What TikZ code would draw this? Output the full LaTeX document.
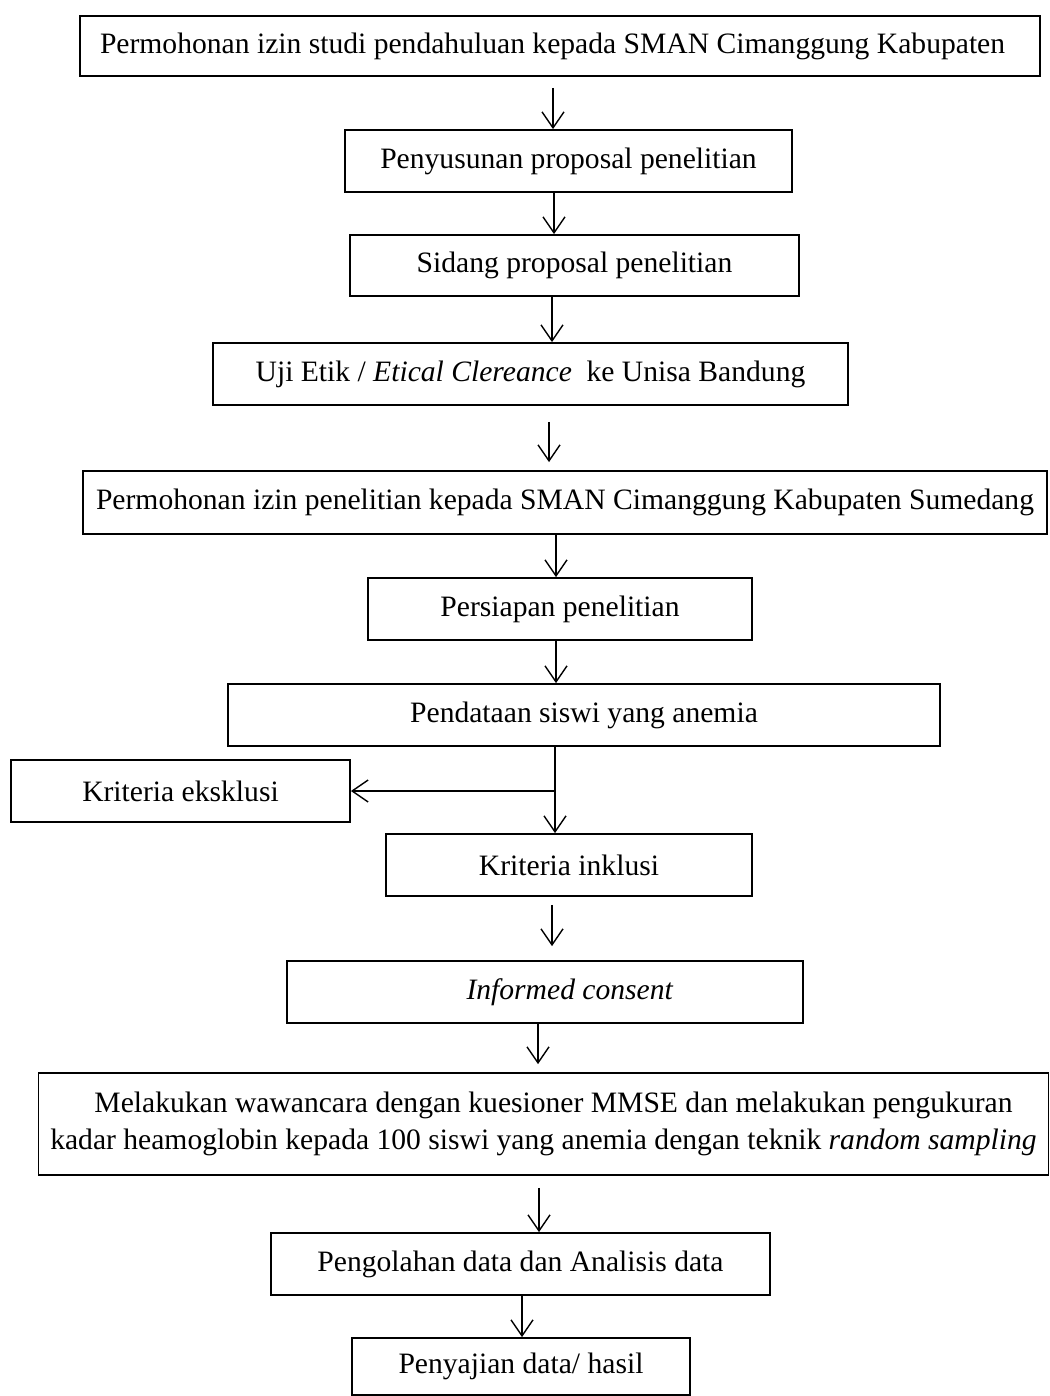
\documentclass[tikz,border=0pt]{standalone}
\usepackage{fontspec}
\setmainfont{Liberation Serif}
\usepackage{tikz}
\usetikzlibrary{arrows.meta}

\begin{document}
\begin{tikzpicture}[
  x=1pt, y=-1pt,
  every node/.style={font=\fontsize{29.6pt}{37pt}\selectfont},
  box/.style={rectangle, draw=black, line width=1.8pt, fill=white,
              inner sep=0pt, align=center},
  arrow/.style={-{Straight Barb[length=16pt, width=22pt]}, line width=1.4pt},
]
\useasboundingbox (0,0) rectangle (1049,1396);

% Persiapan
\node[box, minimum width=960pt, minimum height=60pt] (izinstudi) at (560,46)
  {\makebox[920pt][l]{Permohonan izin studi pendahuluan kepada SMAN Cimanggung Kabupaten}};
\node[box, minimum width=447pt, minimum height=62pt] (proposal) at (568.5,161) {Penyusunan proposal penelitian};
\node[box, minimum width=449pt, minimum height=61pt] (sidang) at (574.5,265.5) {Sidang proposal penelitian};
\node[box, minimum width=635pt, minimum height=62pt] (etik) at (530.5,374)
  {Uji Etik / \textit{Etical Clereance}\ \ ke Unisa Bandung};
\node[box, minimum width=964pt, minimum height=63pt] (izinpen) at (565,502.5)
  {Permohonan izin penelitian kepada SMAN Cimanggung Kabupaten Sumedang};
\node[box, minimum width=384pt, minimum height=62pt] (persiapan) at (560,609) {Persiapan penelitian};

% Sampel
\node[box, minimum width=712pt, minimum height=62pt] (pendataan) at (584,715) {Pendataan siswi yang anemia};
\node[box, minimum width=339pt, minimum height=62pt] (eksklusi) at (180.5,791) {Kriteria eksklusi};
\node[box, minimum width=366pt, minimum height=62pt] (inklusi) at (569,865) {Kriteria inklusi};
\node[box, minimum width=516pt, minimum height=62pt] (informed) at (545,992)
  {\hspace*{50pt}\textit{Informed consent}};

% Pelaksanaan
\node[box, minimum width=1010pt, minimum height=102pt] (wawancara) at (543.5,1124)
  {\hspace*{20pt}Melakukan wawancara dengan kuesioner MMSE dan melakukan pengukuran\\
   kadar heamoglobin kepada 100 siswi yang anemia dengan teknik \textit{random sampling}};
\node[box, minimum width=499pt, minimum height=62pt] (pengolahan) at (520.5,1264) {Pengolahan data dan Analisis data};
\node[box, minimum width=338pt, minimum height=57pt] (penyajian) at (521,1366.5) {Penyajian data/ hasil};

% Arrows
\draw[arrow] ([xshift=-7pt, yshift=-11pt]izinstudi.south) -- ([xshift=-15.5pt]proposal.north);
\draw[arrow] ([xshift=-14.5pt]proposal.south) -- ([xshift=-20.5pt]sidang.north);
\draw[arrow] ([xshift=-22.5pt]sidang.south) -- ([xshift=21.5pt]etik.north);
\draw[arrow] ([xshift=18.5pt, yshift=-16pt]etik.south) -- ([xshift=-16pt, yshift=8pt]izinpen.north);
\draw[arrow] ([xshift=-9pt]izinpen.south) -- ([xshift=-4pt]persiapan.north);
\draw[arrow] ([xshift=-4pt]persiapan.south) -- ([xshift=-28pt]pendataan.north);
\draw[arrow] ([xshift=-29pt]pendataan.south) coordinate (cabang) -- ([xshift=-14pt]inklusi.north);
\draw[arrow] (cabang |- eksklusi.east) -- (eksklusi.east);
\draw[arrow] ([xshift=-17pt, yshift=-8pt]inklusi.south) -- ([xshift=7pt, yshift=14pt]informed.north);
\draw[arrow] ([xshift=-7pt]informed.south) -- ([xshift=-5.5pt, yshift=8pt]wawancara.north);
\draw[arrow] ([xshift=-4.5pt, yshift=-12pt]wawancara.south) -- ([xshift=18.5pt]pengolahan.north);
\draw[arrow] ([xshift=1.5pt]pengolahan.south) -- ([xshift=1pt]penyajian.north);
\end{tikzpicture}
\end{document}
